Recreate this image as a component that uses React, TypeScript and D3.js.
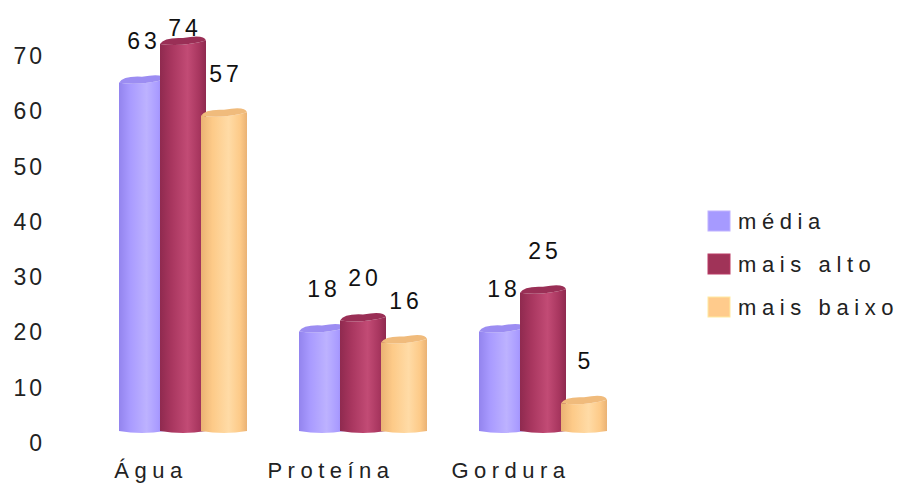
import * as d3 from "d3";

const categories = ["Água", "Proteína", "Gordura"];
const seriesNames = ["média", "mais alto", "mais baixo"];
const media = [63, 18, 18];
const maisAlto = [74, 20, 25];
const maisBaixo = [57, 16, 5];
const yTicks = [0, 10, 20, 30, 40, 50, 60, 70];

const COLORS = {
  media: { base: "#a99bff", dark: "#9384ee", light: "#bdb2ff", top: "#9c8df2" },
  alto: { base: "#a8365f", dark: "#8f2a4f", light: "#c24b75", top: "#9a2f56" },
  baixo: { base: "#fdca88", dark: "#eab274", light: "#ffdba6", top: "#f0bb7c" },
};
const LEGEND = ["#a69aff", "#a03358", "#ffcb8c"];

const W = 900;
const H = 483;
const FONT = "'Liberation Sans', Arial, sans-serif";

export default function App() {
  const x = d3.scaleBand<string>().domain(categories).range([110, 650]);
  const inner = d3.scaleBand<string>().domain(seriesNames).range([0, 123]);
  const y = d3.scaleLinear().domain([0, 70]).range([431, 44]).clamp(true);
  const barW = 46;
  const depth = 7;

  const rows = [
    { key: "media", name: seriesNames[0], values: media },
    { key: "alto", name: seriesNames[1], values: maisAlto },
    { key: "baixo", name: seriesNames[2], values: maisBaixo },
  ] as const;

  const bars: JSX.Element[] = [];
  const labels: JSX.Element[] = [];

  categories.forEach((cat, ci) => {
    rows.forEach((row) => {
      const v = row.values[ci];
      const x0 = (x(cat) ?? 0) + 9 + (inner(row.name) ?? 0);
      const y0 = y(v);
      const base = y(0);
      const c = COLORS[row.key];
      // body with rounded bottom, slanted top face
      const body = `M${x0},${y0} L${x0},${base} Q${x0 + barW / 2},${base + 4} ${x0 + barW},${base} L${x0 + barW},${y0 - depth / 2} Q${x0 + barW / 2},${y0 + 3} ${x0},${y0} Z`;
      const top = `M${x0},${y0} Q${x0 + 4},${y0 - depth} ${x0 + barW / 2},${y0 - depth + 1} Q${x0 + barW - 2},${y0 - depth - 3} ${x0 + barW},${y0 - depth / 2} Q${x0 + barW / 2},${y0 + 3} ${x0},${y0} Z`;
      bars.push(
        <g key={`${cat}-${row.key}`}>
          <path d={body} fill={`url(#g-${row.key})`} />
          <path d={top} fill={c.top} />
        </g>
      );
      labels.push(
        <text
          key={`l-${cat}-${row.key}`}
          x={x0 + barW / 2 + 2}
          y={Math.max(y0 - 42, 28)}
          textAnchor="middle"
          dominantBaseline="central"
          fontSize={23}
          letterSpacing={4}
          fill="#111"
        >
          {v}
        </text>
      );
    });
  });

  return (
    <svg
      width={W}
      height={H}
      viewBox={`0 0 ${W} ${H}`}
      style={{ position: "absolute", left: 0, top: 0, background: "#fff" }}
      fontFamily={FONT}
    >
      <defs>
        {rows.map((row) => {
          const c = COLORS[row.key];
          return (
            <linearGradient key={row.key} id={`g-${row.key}`} x1="0" x2="1" y1="0" y2="0">
              <stop offset="0" stopColor={c.dark} />
              <stop offset="0.25" stopColor={c.base} />
              <stop offset="0.6" stopColor={c.light} />
              <stop offset="0.85" stopColor={c.base} />
              <stop offset="1" stopColor={c.dark} />
            </linearGradient>
          );
        })}
      </defs>

      {yTicks.map((t) => (
        <text
          key={t}
          x={45}
          y={y(t) + 12}
          textAnchor="end"
          dominantBaseline="central"
          fontSize={23}
          letterSpacing={3}
          fill="#222"
        >
          {t}
        </text>
      ))}

      {bars}
      {labels}

      {categories.map((cat) => (
        <text
          key={cat}
          x={(x(cat) ?? 0) + 41}
          y={470}
          textAnchor="middle"
          dominantBaseline="central"
          fontSize={22}
          letterSpacing={5.5}
          fill="#222"
        >
          {cat}
        </text>
      ))}

      {seriesNames.map((s, i) => (
        <g key={s} transform={`translate(708, ${211 + i * 43})`}>
          <rect width={22} height={20} fill={LEGEND[i]} stroke={d3.color(LEGEND[i])?.brighter(0.4).toString()} strokeWidth={1} />
          <text x={30} y={10} dominantBaseline="central" fontSize={22} letterSpacing={5.6} fill="#222">
            {s}
          </text>
        </g>
      ))}
    </svg>
  );
}
